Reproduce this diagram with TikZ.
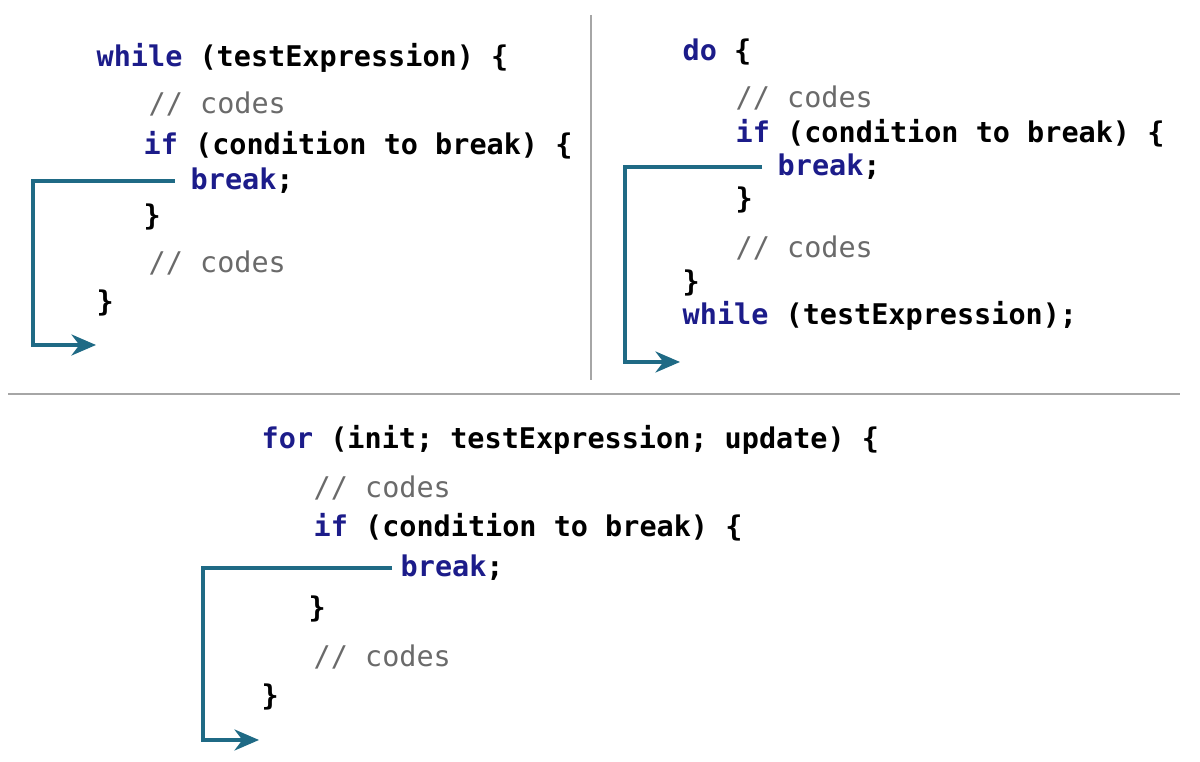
\documentclass[tikz,border=0pt]{standalone}
\usepackage{fontspec}
\setmonofont{DejaVu Sans Mono}
\usetikzlibrary{arrows.meta,positioning}
\definecolor{kw}{HTML}{1C1C8A}
\definecolor{cmt}{HTML}{6A6A6A}
\definecolor{jump}{HTML}{1F6A85}
\newcommand{\kw}[1]{\textcolor{kw}{#1}}
\begin{document}
\begin{tikzpicture}[%
x=0.01cm, y=-0.01cm,
code/.style={anchor=west, inner sep=0pt, font=\fontsize{8.1pt}{9pt}\ttfamily\bfseries},
comment/.style={code, font=\fontsize{8.1pt}{9pt}\ttfamily, text=cmt},
jumpline/.style={draw=jump, line width=0.9pt, -{Stealth[length=7pt,width=6pt]}},
divider/.style={draw=gray!70, line width=0.5pt}
]
\useasboundingbox (0,0) rectangle (1200,762);

% while loop
\node[code] (w1) at (96,58)  {\kw{while} (testExpression) \{};
\node[comment] (w2) at (148,104) {// codes};
\node[code] (w3) at (143,145) {\kw{if} (condition to break) \{};
\node[code] (w4) at (190,181) {\kw{break};};
\node[code] (w5) at (143,217) {\}};
\node[comment] (w6) at (148,263) {// codes};
\node[code] (w7) at (96,303) {\}};
\coordinate (wend) at (96,345);
\draw[jumpline] ([xshift=-0.15cm] w4.west) -- (33,181) |- (wend);

% do-while loop
\node[code] (d1) at (682,52)  {\kw{do} \{};
\node[comment] (d2) at (735,98)  {// codes};
\node[code] (d3) at (735,133) {\kw{if} (condition to break) \{};
\node[code] (d4) at (777,167) {\kw{break};};
\node[code] (d5) at (735,200) {\}};
\node[comment] (d6) at (735,248) {// codes};
\node[code] (d7) at (682,283) {\}};
\node[code] (d8) at (682,316) {\kw{while} (testExpression);};
\coordinate (dend) at (680,362);
\draw[jumpline] ([xshift=-0.15cm] d4.west) -- (625,167) |- (dend);

% for loop
\node[code] (f1) at (261,440) {\kw{for} (init; testExpression; update) \{};
\node[comment] (f2) at (313,488) {// codes};
\node[code] (f3) at (313,527) {\kw{if} (condition to break) \{};
\node[code] (f4) at (400,568) {\kw{break};};
\node[code] (f5) at (308,609) {\}};
\node[comment] (f6) at (313,657) {// codes};
\node[code] (f7) at (261,697) {\}};
\coordinate (fend) at (259,740);
\draw[jumpline] ([xshift=-0.08cm] f4.west) -- (203,568) |- (fend);

% dividers
\draw[divider] (591,15) -- (591,380);
\draw[divider] (8,394) -- (1180,394);
\end{tikzpicture}
\end{document}
